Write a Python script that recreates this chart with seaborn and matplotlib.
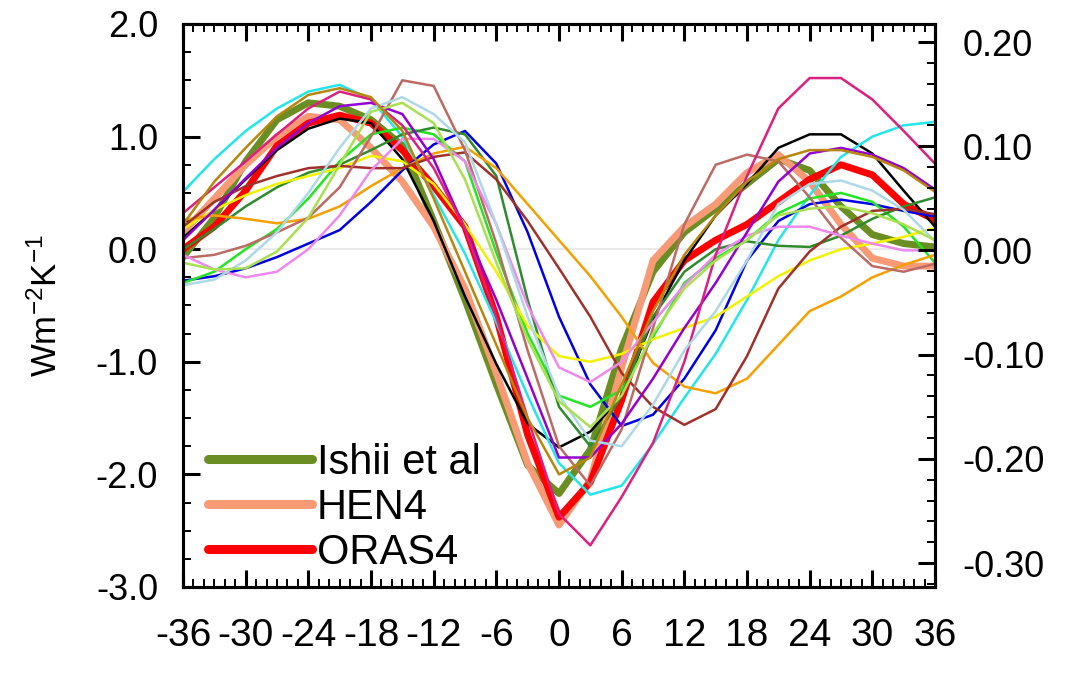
import numpy as np
import pandas as pd
import matplotlib
matplotlib.use("Agg")
import matplotlib.pyplot as plt
import seaborn as sns
from matplotlib.ticker import MultipleLocator, FormatStrFormatter
from matplotlib.lines import Line2D

# ---------------- data (lag in months, W m-2 K-1) ----------------
lags = [-36, -33, -30, -27, -24, -21, -18, -15, -12, -9, -6, -3, 0,
        3, 6, 9, 12, 15, 18, 21, 24, 27, 30, 33, 36]

ishii = [-0.07, 0.28, 0.78, 1.15, 1.30, 1.27, 1.15, 0.92, 0.25, -0.45, -1.20, -1.92, -2.17,
         -1.78, -0.88, -0.20, 0.15, 0.36, 0.58, 0.80, 0.70, 0.38, 0.13, 0.05, 0.02]
hen4 = [0.15, 0.45, 0.75, 1.00, 1.18, 1.15, 0.90, 0.60, 0.20, -0.35, -1.10, -1.90, -2.45,
        -2.05, -1.05, -0.10, 0.20, 0.40, 0.68, 0.84, 0.60, 0.22, -0.08, -0.15, -0.15]
oras4 = [0.00, 0.20, 0.52, 0.92, 1.12, 1.19, 1.12, 0.88, 0.56, 0.20, -0.60, -1.65, -2.38,
         -2.07, -1.34, -0.47, -0.10, 0.08, 0.22, 0.42, 0.62, 0.75, 0.66, 0.40, 0.26]

m_black = [0.10, 0.35, 0.62, 0.88, 1.07, 1.16, 1.12, 0.80, 0.25, -0.42, -1.02, -1.55, -1.76,
           -1.62, -1.30, -0.62, -0.10, 0.30, 0.58, 0.90, 1.02, 1.02, 0.85, 0.52, 0.20]
m_cyan = [0.51, 0.80, 1.05, 1.25, 1.40, 1.46, 1.33, 1.00, 0.48, -0.04, -0.65, -1.30, -1.90,
          -2.18, -2.10, -1.73, -1.32, -0.93, -0.45, 0.08, 0.48, 0.82, 1.00, 1.10, 1.13]
m_blue = [-0.28, -0.24, -0.17, -0.07, 0.05, 0.17, 0.42, 0.70, 0.93, 1.05, 0.76, 0.15, -0.60,
          -1.20, -1.57, -1.47, -1.15, -0.72, -0.10, 0.25, 0.40, 0.44, 0.40, 0.34, 0.29]
m_lime = [-0.30, -0.20, 0.00, 0.18, 0.45, 0.78, 1.02, 1.08, 1.02, 0.78, -0.03, -0.75, -1.30,
          -1.40, -1.25, -0.78, -0.30, -0.08, 0.08, 0.32, 0.45, 0.50, 0.42, 0.20, -0.12]
m_forest = [0.00, 0.18, 0.38, 0.55, 0.68, 0.75, 0.88, 1.02, 1.08, 1.02, 0.65, -0.45, -1.40,
            -1.75, -1.30, -0.60, -0.20, 0.00, 0.07, 0.03, 0.02, 0.12, 0.27, 0.38, 0.46]
m_yellow = [0.18, 0.35, 0.48, 0.58, 0.65, 0.72, 0.83, 0.78, 0.58, 0.22, -0.20, -0.68, -0.95,
            -1.00, -0.93, -0.80, -0.70, -0.60, -0.42, -0.24, -0.10, 0.00, 0.05, 0.11, 0.19]
m_orange = [0.26, 0.30, 0.27, 0.23, 0.27, 0.38, 0.56, 0.72, 0.85, 0.91, 0.72, 0.40, 0.08,
            -0.24, -0.60, -1.01, -1.22, -1.28, -1.15, -0.85, -0.55, -0.42, -0.25, -0.14, -0.05]
m_brown = [0.20, 0.42, 0.56, 0.65, 0.72, 0.74, 0.72, 0.72, 0.82, 0.86, 0.62, 0.25, -0.17,
           -0.60, -1.10, -1.40, -1.56, -1.42, -0.95, -0.35, -0.02, 0.20, 0.34, 0.36, 0.31]
m_rosy = [-0.08, -0.05, 0.03, 0.15, 0.28, 0.55, 1.00, 1.50, 1.45, 0.88, 0.05, -0.90, -1.75,
          -2.10, -1.60, -0.70, 0.22, 0.75, 0.84, 0.78, 0.46, 0.10, -0.15, -0.20, -0.13]
m_violet = [-0.05, -0.18, -0.25, -0.20, 0.00, 0.30, 0.70, 0.98, 0.98, 0.78, 0.22, -0.50, -1.05,
            -1.18, -1.00, -0.65, -0.32, -0.05, 0.12, 0.20, 0.20, 0.12, 0.05, -0.01, -0.01]
m_purple = [0.08, 0.35, 0.63, 0.90, 1.12, 1.27, 1.30, 1.20, 0.80, 0.18, -0.45, -1.15, -1.85,
            -1.85, -1.55, -1.15, -0.70, -0.30, 0.15, 0.60, 0.85, 0.90, 0.84, 0.72, 0.53]
m_pink = [0.32, 0.55, 0.78, 1.02, 1.25, 1.40, 1.33, 1.10, 0.72, 0.18, -0.60, -1.50, -2.35,
          -2.63, -2.20, -1.72, -1.00, -0.05, 0.65, 1.25, 1.52, 1.52, 1.33, 1.05, 0.76]
m_lightblue = [-0.32, -0.27, -0.10, 0.15, 0.50, 0.90, 1.25, 1.35, 1.20, 0.95, 0.22, -0.60, -1.30,
               -1.70, -1.75, -1.38, -0.90, -0.55, -0.10, 0.40, 0.58, 0.61, 0.52, 0.35, 0.07]
m_ygreen = [-0.12, -0.18, -0.17, -0.02, 0.28, 0.75, 1.22, 1.30, 1.12, 0.62, -0.12, -0.80, -1.35,
            -1.58, -1.30, -0.75, -0.35, -0.10, 0.08, 0.30, 0.36, 0.38, 0.32, 0.22, 0.08]
m_gold = [0.22, 0.60, 0.90, 1.18, 1.37, 1.43, 1.35, 1.05, 0.45, -0.20, -0.85, -1.50, -2.00,
          -1.85, -1.20, -0.55, -0.05, 0.30, 0.60, 0.80, 0.88, 0.88, 0.82, 0.70, 0.51]

thick = {"Ishii et al": (ishii, "#6b8e23"),
         "HEN4": (hen4, "#f89a76"),
         "ORAS4": (oras4, "#ff0000")}
thin = {"m_black": (m_black, "#000000"),
        "m_cyan": (m_cyan, "#22e6ea"),
        "m_blue": (m_blue, "#0000e6"),
        "m_lime": (m_lime, "#22e622"),
        "m_forest": (m_forest, "#2e8b2e"),
        "m_yellow": (m_yellow, "#f2f200"),
        "m_orange": (m_orange, "#f5a000"),
        "m_brown": (m_brown, "#a0302a"),
        "m_rosy": (m_rosy, "#bc6a64"),
        "m_violet": (m_violet, "#ee88ee"),
        "m_purple": (m_purple, "#9400d3"),
        "m_pink": (m_pink, "#dd2080"),
        "m_lightblue": (m_lightblue, "#add8e6"),
        "m_ygreen": (m_ygreen, "#a8e050"),
        "m_gold": (m_gold, "#b8860b")}


def long_df(d):
    rows = []
    for k, (vals, _) in d.items():
        for l, v in zip(lags, vals):
            rows.append((k, l, v))
    return pd.DataFrame(rows, columns=["series", "lag", "value"])


sns.set_theme(style="white")
plt.rcParams["font.family"] = ["Liberation Sans", "DejaVu Sans"]
plt.rcParams["mathtext.fontset"] = "custom"
plt.rcParams["mathtext.rm"] = "Liberation Sans"
plt.rcParams["mathtext.default"] = "rm"
plt.rcParams["axes.unicode_minus"] = False
for key in ["text.color", "axes.labelcolor", "xtick.color", "ytick.color", "axes.edgecolor"]:
    plt.rcParams[key] = "black"

fig = plt.figure(figsize=(10.81, 6.76), dpi=100)
ax = fig.add_axes([183 / 1081, 1 - 587 / 676, (935 - 183) / 1081, (587 - 24) / 676])

ax.axhline(0, color="#e8e8e8", lw=1.3, zorder=0)

sns.lineplot(data=long_df(thick), x="lag", y="value", hue="series",
             palette={k: c for k, (_, c) in thick.items()}, lw=5.0,
             legend=False, ax=ax, solid_joinstyle="round")
sns.lineplot(data=long_df(thin), x="lag", y="value", hue="series",
             palette={k: c for k, (_, c) in thin.items()}, lw=1.8,
             legend=False, ax=ax, solid_joinstyle="round")

ax.set_xlim(-36, 36)
ax.set_ylim(-3, 2)
ax.set_xticks(range(-36, 37, 6))
ax.xaxis.set_minor_locator(MultipleLocator(1))
ax.set_yticks([-3, -2, -1, 0, 1, 2])
ax.yaxis.set_major_formatter(FormatStrFormatter("%.1f"))
ax.yaxis.set_minor_locator(MultipleLocator(0.25))
ax.tick_params(axis="x", which="both", direction="in", top=True, bottom=True,
               labelsize=28, pad=22, color="black", labelcolor="black")
ax.tick_params(axis="y", which="both", direction="in", left=True, right=False,
               labelsize=26, pad=18, color="black", labelcolor="black")
ax.tick_params(which="major", length=12, width=2.2)
ax.tick_params(which="minor", length=6, width=1.4)
ax.set_xlabel("")
ax.set_ylabel(r"Wm$^{-2}$K$^{-1}$", fontsize=25, color="black")
ax.yaxis.set_label_coords(-0.158, 0.5)
for s in ax.spines.values():
    s.set_linewidth(2.2)
    s.set_color("black")

ax2 = ax.twinx()
ax2.set_ylim(-0.323, 0.2173)
ax2.set_yticks([-0.3, -0.2, -0.1, 0.0, 0.1, 0.2])
ax2.yaxis.set_major_formatter(FormatStrFormatter("%.2f"))
ax2.yaxis.set_minor_locator(MultipleLocator(0.02))
ax2.tick_params(axis="y", which="both", direction="in", right=True, left=False,
                labelsize=26, pad=20, color="black", labelcolor="black")
ax2.tick_params(which="major", length=12, width=2.2)
ax2.tick_params(which="minor", length=6, width=1.4)
for s in ax2.spines.values():
    s.set_linewidth(2.2)
    s.set_color("black")
ax2.grid(False)
ax.grid(False)

handles = [Line2D([], [], color=c, lw=6.5, solid_capstyle="round") for _, (v, c) in thick.items()]
ax.legend(handles, list(thick.keys()), loc="lower left", bbox_to_anchor=(0.033, 0.025),
          frameon=False, fontsize=30, handlelength=2.5, handletextpad=0.12,
          labelspacing=0.12, borderpad=0.0, borderaxespad=0.0)

fig.savefig("out.png", dpi=100)
